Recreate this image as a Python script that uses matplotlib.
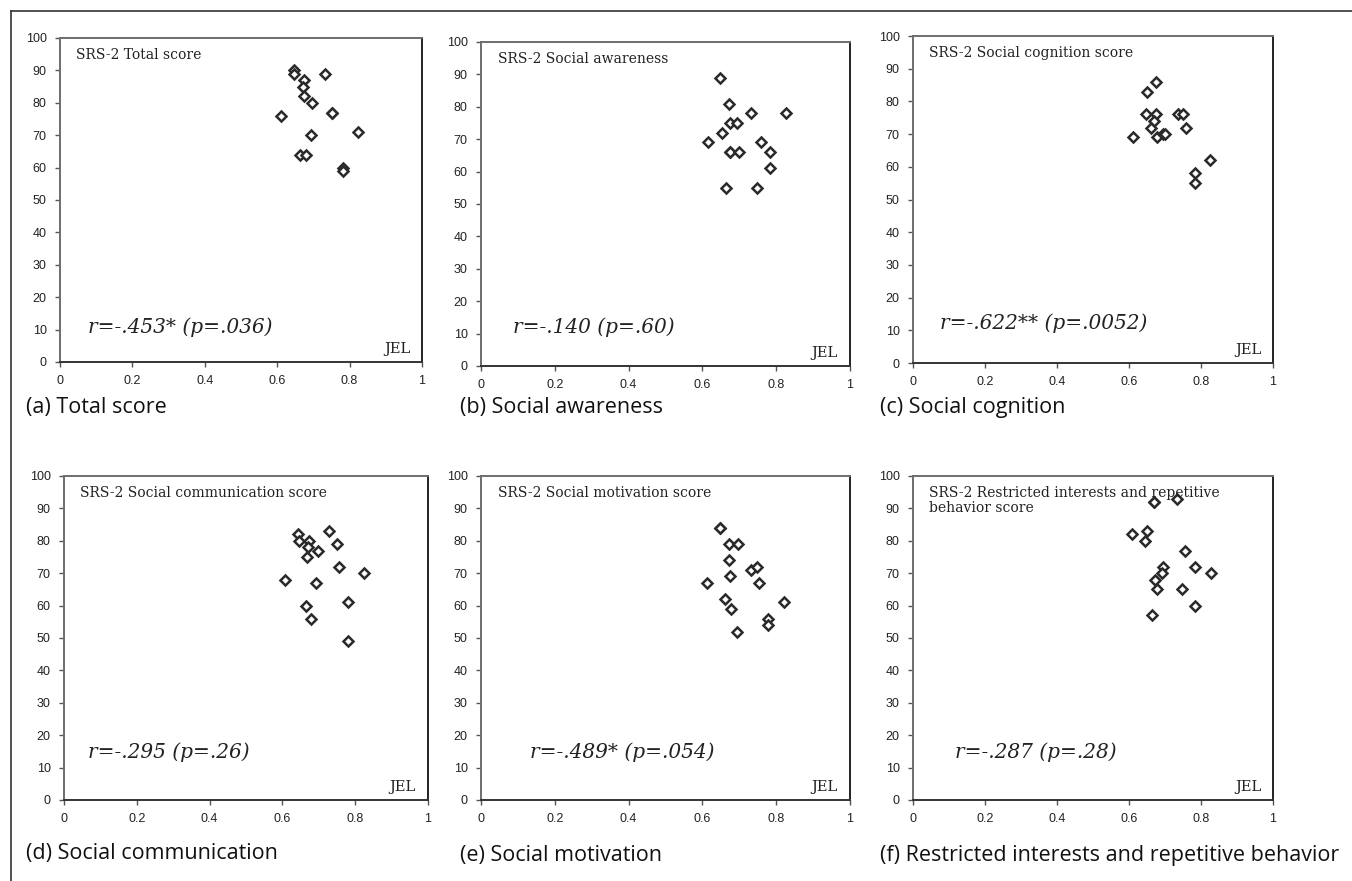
import matplotlib
matplotlib.use("Agg")
import matplotlib.pyplot as plt
from matplotlib.lines import Line2D

W, H = 1352, 881

# ---- data ----
a_x = [0.647, 0.647, 0.733, 0.675, 0.670, 0.675, 0.697, 0.750, 0.750, 0.610, 0.693, 0.824, 0.663, 0.679, 0.781, 0.781]
a_y = [90, 89, 89, 87, 85, 82, 80, 77, 77, 76, 70, 71, 64, 64, 60, 59]

b_x = [0.649, 0.672, 0.732, 0.827, 0.674, 0.695, 0.652, 0.614, 0.760, 0.676, 0.676, 0.699, 0.782, 0.782, 0.665, 0.749]
b_y = [89, 81, 78, 78, 75, 75, 72, 69, 69, 66, 66, 66, 66, 61, 55, 55]

c_x = [0.676, 0.651, 0.646, 0.676, 0.735, 0.750, 0.670, 0.662, 0.758, 0.610, 0.679, 0.695, 0.699, 0.824, 0.782, 0.782]
c_y = [86, 83, 76, 76, 76, 76, 74, 72, 72, 69, 69, 70, 70, 62, 58, 55]

d_x = [0.644, 0.729, 0.646, 0.673, 0.671, 0.699, 0.749, 0.668, 0.756, 0.824, 0.607, 0.691, 0.664, 0.779, 0.679, 0.779]
d_y = [82, 83, 80, 80, 78, 77, 79, 75, 72, 70, 68, 67, 60, 61, 56, 49]

e_x = [0.648, 0.648, 0.673, 0.697, 0.671, 0.731, 0.749, 0.675, 0.612, 0.754, 0.661, 0.678, 0.822, 0.779, 0.779, 0.695]
e_y = [84, 84, 79, 79, 74, 71, 72, 69, 67, 67, 62, 59, 61, 56, 54, 52]

f_x = [0.670, 0.670, 0.733, 0.608, 0.649, 0.644, 0.756, 0.695, 0.692, 0.783, 0.828, 0.673, 0.677, 0.747, 0.783, 0.664]
f_y = [92, 92, 93, 82, 83, 80, 77, 72, 70, 72, 70, 68, 65, 65, 60, 57]

titles = ["SRS-2 Total score", "SRS-2 Social awareness", "SRS-2 Social cognition score",
          "SRS-2 Social communication score", "SRS-2 Social motivation score",
          "SRS-2 Restricted interests and repetitive\nbehavior score"]
stats = ["r=-.453* (p=.036)", "r=-.140 (p=.60)", "r=-.622** (p=.0052)",
         "r=-.295 (p=.26)", "r=-.489* (p=.054)", "r=-.287 (p=.28)"]
captions = ["(a) Total score", "(b) Social awareness", "(c) Social cognition",
            "(d) Social communication", "(e) Social motivation",
            "(f) Restricted interests and repetitive behavior"]
x_ticks = [0, 0.2, 0.4, 0.6, 0.8, 1]
x_ticklabels = ["0", "0.2", "0.4", "0.6", "0.8", "1"]
y_ticks = list(range(0, 101, 10))

xs = [a_x, b_x, c_x, d_x, e_x, f_x]
ys = [a_y, b_y, c_y, d_y, e_y, f_y]

# pixel boxes (left, right, top, bottom)
boxes = [(60, 422, 38, 362), (481, 850, 42, 366), (913, 1273, 36, 363),
         (64, 428, 476, 800), (481, 850, 476, 800), (913, 1273, 476, 800)]
stat_pos = [(0.077, 0.108), (0.086, 0.12), (0.075, 0.122),
            (0.067, 0.148), (0.133, 0.148), (0.117, 0.148)]
caption_pos = [(26, 408), (460, 408), (880, 408), (26, 853), (460, 855), (880, 855)]

fig = plt.figure(figsize=(W / 100, H / 100), dpi=100)
fig.patch.set_facecolor("white")

for i in range(6):
    l, r, t, b = boxes[i]
    ax = fig.add_axes([l / W, 1 - b / H, (r - l) / W, (b - t) / H])
    ax.plot(xs[i], ys[i], linestyle="none", marker="D", markersize=5.2,
            markerfacecolor="white", markeredgecolor="#2a2a2a", markeredgewidth=1.8)
    ax.set_xlim(0, 1)
    ax.set_ylim(0, 100)
    ax.set_xticks(x_ticks)
    ax.set_xticklabels(x_ticklabels)
    ax.set_yticks(y_ticks)
    ax.tick_params(direction="out", length=3.5, width=1, colors="#555555",
                   labelcolor="#222222", labelsize=9, pad=6)
    for lab in ax.get_xticklabels() + ax.get_yticklabels():
        lab.set_family("Liberation Sans")
    ax.spines["top"].set_color("#6e6e6e")
    ax.spines["left"].set_color("#6e6e6e")
    ax.spines["right"].set_color("#222222")
    ax.spines["bottom"].set_color("#333333")
    for s in ax.spines.values():
        s.set_linewidth(1.4)
    ax.text(0.045, 0.968, titles[i], transform=ax.transAxes, ha="left", va="top",
            family="DejaVu Serif", fontsize=10, color="#222222", linespacing=1.1)
    ax.text(stat_pos[i][0], stat_pos[i][1], stats[i], transform=ax.transAxes,
            ha="left", va="center", family="DejaVu Serif", style="italic",
            fontsize=14.5, color="#222222")
    ax.text(0.967, 0.04, "JEL", transform=ax.transAxes, ha="right", va="center",
            family="DejaVu Serif", fontsize=10.5, color="#222222")
    cx, cy = caption_pos[i]
    fig.text(cx / W, 1 - cy / H, captions[i], ha="left", va="center",
             family="Open Sans", fontsize=15.5, color="#111111")

# outer frame (left and top edges)
fig.add_artist(Line2D([11 / W, 11 / W], [0, 1 - 11 / H], transform=fig.transFigure,
                      color="#333333", linewidth=1.2))
fig.add_artist(Line2D([11 / W, 1], [1 - 11 / H, 1 - 11 / H], transform=fig.transFigure,
                      color="#333333", linewidth=1.2))

fig.savefig("out.png", dpi=100, facecolor="white")
